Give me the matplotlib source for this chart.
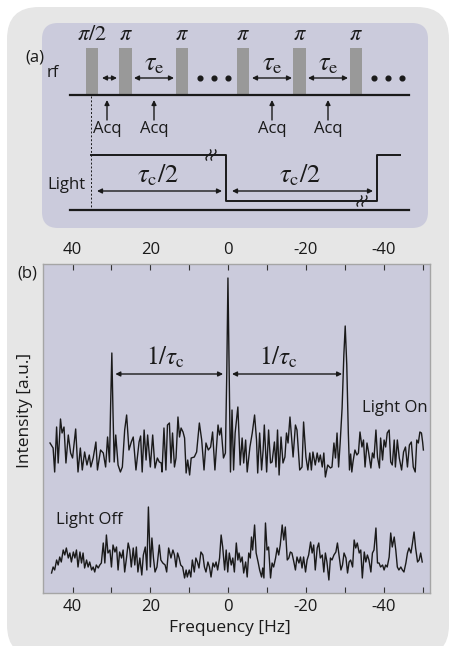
import numpy as np
import matplotlib.pyplot as plt
from matplotlib.patches import FancyBboxPatch

plt.rcParams['font.family'] = ['Open Sans', 'DejaVu Sans']
plt.rcParams['mathtext.fontset'] = 'stix'
plt.rcParams['axes.unicode_minus'] = False

# ---- spectrum (b): frequency [Hz] and intensity [a.u.] ----
on_freq = [45.8, 45.0, 44.6, 44.1, 43.7, 43.1, 42.7, 42.2, 41.7, 41.1, 40.5, 40.0, 39.2, 38.6,
           38.0, 37.5, 36.9, 36.3, 35.7, 35.3, 34.7, 34.0, 33.6, 32.8, 32.1, 31.5, 31.0, 30.5,
           30.2, 29.9, 29.6, 29.3, 28.9, 28.3, 27.7, 27.2, 26.6, 26.1, 25.5, 24.9, 24.4, 23.7,
           22.9, 22.5, 22.1, 21.6, 21.1, 20.7, 20.0, 19.4, 18.8, 18.2, 17.7, 17.2, 17.0, 16.5,
           16.0, 15.6, 15.1, 14.7, 14.3, 13.8, 13.4, 12.9, 12.5, 12.1, 11.6, 11.2, 10.8, 10.4,
           9.9, 9.5, 8.7, 8.1, 7.4, 6.8, 6.2, 5.7, 5.1, 4.5, 4.0, 3.4, 2.6, 2.2, 1.8, 1.2,
           0.7, 0.35, 0.05, -0.3, -0.6, -1.0, -1.4, -1.8, -2.5, -3.1, -3.6, -4.0, -4.5, -4.9,
           -5.6, -6.2, -6.8, -7.3, -7.6, -8.1, -8.6, -9.0, -9.3, -9.9, -10.4, -10.9, -11.3,
           -11.9, -12.3, -12.7, -13.1, -13.6, -14.1, -14.6, -15.0, -15.4, -15.9, -16.3, -16.7,
           -17.3, -17.7, -18.4, -19.0, -19.4, -20.0, -20.5, -21.0, -21.4, -21.8, -22.4, -22.9,
           -23.3, -23.7, -24.2, -24.6, -25.0, -25.6, -26.3, -26.7, -27.2, -27.6, -28.0, -28.4,
           -28.8, -29.3, -29.75, -30.1, -30.5, -30.9, -31.2, -31.5, -31.8, -32.1, -32.6, -33.1,
           -33.5, -33.9, -34.4, -34.8, -35.2, -35.7, -36.1, -36.7, -37.1, -37.5, -38.0, -38.4,
           -38.9, -39.2, -39.7, -40.1, -40.5, -40.9, -41.4, -41.8, -42.2, -42.7, -43.0, -43.5,
           -44.0, -44.6, -45.1, -45.6, -46.1, -46.6, -47.1, -47.6, -48.1, -48.5, -48.9, -49.3,
           -49.7, -50.0, -50.2]
on_int = [150, 145, 121, 166, 130, 174, 160, 166, 130, 158, 140, 135, 164, 121,
          145, 123, 141, 128, 138, 126, 135, 151, 123, 143, 140, 126, 156, 131,
          190, 240, 180, 131, 158, 128, 121, 126, 163, 178, 143, 151, 156, 123,
          151, 157, 121, 163, 133, 158, 126, 158, 125, 135, 131, 130, 121, 165,
          123, 168, 170, 130, 160, 126, 135, 176, 156, 165, 161, 155, 120, 133,
          118, 135, 136, 141, 170, 153, 123, 150, 143, 146, 161, 123, 168, 158, 165, 135,
          140, 220, 315, 210, 121, 183, 123, 160, 186, 128, 155, 130, 153, 121,
          146, 160, 178, 153, 120, 160, 123, 143, 168, 121, 163, 130, 131,
          151, 126, 163, 118, 156, 130, 136, 160, 150, 176, 156, 136,
          168, 163, 123, 126, 171, 136, 123, 140, 123, 141, 128, 140,
          131, 138, 126, 140, 116, 128, 125, 126, 150, 135, 160, 126,
          150, 185, 238, 267, 228, 160, 123, 139, 121, 131, 143, 138,
          140, 161, 146, 153, 126, 150, 141, 125, 140, 135, 163, 136,
          125, 155, 133, 153, 146, 160, 163, 131, 128, 153, 126, 153,
          135, 123, 141, 146, 126, 148, 151, 126, 121, 153, 150, 161,
          160, 151, 143]

off_freq = [45.4, 45.0, 44.6, 44.1, 43.7, 43.3, 42.9, 42.4, 42.0, 41.6, 41.1, 40.7, 40.3, 39.8,
            39.4, 39.0, 38.6, 38.1, 37.7, 37.3, 36.9, 36.4, 36.0, 35.6, 35.1, 34.7, 34.3, 33.9,
            33.4, 33.0, 32.6, 32.1, 31.7, 31.3, 30.9, 30.4, 30.0, 29.6, 29.1, 28.7, 28.3, 27.9,
            27.4, 27.0, 26.6, 26.1, 25.7, 25.3, 24.9, 24.4, 24.0, 23.6, 23.2, 22.7, 22.2, 21.8,
            21.3, 20.9, 20.5, 20.0, 19.6, 19.2, 18.8, 18.3, 17.7, 17.3, 16.8, 16.2, 15.8, 15.3,
            14.7, 14.2, 13.8, 13.4, 13.0, 12.6, 12.2, 11.7, 11.2, 10.8, 10.5, 10.0, 9.6, 9.2,
            8.7, 8.3, 7.9, 7.5, 7.0, 6.5, 6.1, 5.7, 5.2, 4.8, 4.4, 3.9, 3.5, 3.1, 2.7, 2.2,
            1.8, 1.4, 0.9, 0.5, 0.1, -0.3, -0.8, -1.2, -1.6, -2.1, -2.5, -2.8, -3.2, -3.6,
            -4.0, -4.5, -4.9, -5.3, -5.7, -6.0, -6.3, -6.8, -7.2, -7.7, -8.1, -8.6, -8.9, -9.2,
            -9.6, -10.0, -10.4, -10.9, -11.3, -11.7, -12.2, -12.6, -13.0, -13.4, -13.9, -14.3,
            -14.7, -15.2, -15.6, -16.0, -16.4, -16.9, -17.3, -17.7, -18.2, -18.6, -19.0, -19.4,
            -19.9, -20.3, -20.7, -21.2, -21.6, -22.0, -22.4, -22.9, -23.3, -23.7, -24.2, -24.6,
            -25.0, -25.4, -25.9, -26.3, -26.7, -27.2, -27.7, -28.1, -28.5, -29.0, -29.4, -29.8,
            -30.3, -30.7, -31.1, -31.5, -32.0, -32.4, -32.8, -33.2, -33.7, -34.1, -34.5, -35.0,
            -35.4, -35.8, -36.2, -36.7, -37.1, -37.5, -38.0, -38.4, -38.8, -39.2, -39.7, -40.1,
            -40.5, -40.9, -41.4, -41.8, -42.2, -42.7, -43.1, -43.5, -43.9, -44.4, -44.8, -45.2,
            -45.7, -46.1, -46.5, -47.0, -47.4, -47.8, -48.2, -48.7, -49.1, -49.5, -49.9]
off_int = [20, 26, 23, 33, 28, 36, 31, 43, 38, 45, 35, 40, 31, 41,
           35, 43, 26, 41, 30, 40, 25, 33, 26, 31, 23, 26, 21, 28,
           25, 28, 30, 50, 30, 58, 40, 43, 26, 48, 41, 46, 23, 41,
           35, 43, 21, 36, 50, 43, 26, 45, 28, 46, 21, 35, 18, 38,
           46, 23, 86, 26, 55, 35, 21, 26, 48, 33, 30, 28, 21, 45,
           35, 43, 38, 26, 40, 35, 28, 26, 15, 23, 16, 23, 16, 33,
           21, 35, 31, 25, 41, 38, 26, 21, 31, 26, 16, 30, 26, 31, 23, 35,
           58, 46, 23, 43, 21, 40, 28, 35, 21, 50, 33, 40, 31, 36,
           20, 31, 16, 40, 35, 56, 43, 68, 40, 31, 23, 16, 25, 15,
           70, 43, 46, 15, 30, 26, 35, 45, 38, 48, 68, 53,
           66, 33, 35, 41, 40, 31, 23, 36, 30, 36, 25, 36,
           21, 33, 38, 51, 40, 48, 23, 45, 50, 35, 38, 21,
           40, 31, 13, 35, 33, 38, 41, 50, 38, 23, 28, 40,
           35, 20, 31, 33, 26, 53, 45, 50, 40, 43, 15, 41,
           31, 38, 33, 21, 40, 43, 65, 30, 30, 26, 28, 23,
           28, 26, 36, 60, 46, 56, 43, 26, 23, 26, 23, 21,
           30, 40, 45, 40, 50, 61, 45, 31, 33, 40, 31]

major_ticks = [40, 20, 0, -20, -40]
minor_ticks = [30, 10, -10, -30, -50]

# ---- pulse sequence schematic (a), in figure pixel units ----
pulse_x = [92, 125.5, 182, 243, 299.5, 356]
pulse_names = [r'$\pi/2$', r'$\pi$', r'$\pi$', r'$\pi$', r'$\pi$', r'$\pi$']
acq_x = [107, 154, 272, 328]
tau_e_spans = [(134, 174), (252, 292), (308, 348)]
dots_x = [[200, 214, 228], [374, 388, 402]]
light_x = [91, 226, 226, 377, 377, 400]
light_y = [155, 155, 201, 201, 155, 155]

ink = '#1a1a1a'
lav = '#cbcbdc'

fig = plt.figure(figsize=(4.5, 6.46), dpi=100)
bg = fig.add_axes([0, 0, 1, 1])
bg.set_xlim(0, 450)
bg.set_ylim(646, 0)
bg.axis('off')

bg.add_patch(FancyBboxPatch((7, 7), 442, 650, boxstyle='round,pad=0,rounding_size=32',
                            fc='#e6e6e6', ec='none'))
bg.add_patch(FancyBboxPatch((42, 23), 386, 205, boxstyle='round,pad=0,rounding_size=16',
                            fc=lav, ec='none'))

# rf line and pulses
bg.bar(pulse_x, -46.5, width=12.5, bottom=94.5, color='#999999', zorder=2)
bg.plot([70, 409], [94.5, 94.5], color=ink, lw=1.6, zorder=3)
for x, s in zip(pulse_x, pulse_names):
    bg.text(x, 35, s, fontsize=16, ha='center', va='center', color=ink)
bg.text(53, 73, 'rf', fontsize=12, ha='center', va='center', color=ink)
bg.text(35, 57, '(a)', fontsize=12, ha='center', va='center', color=ink)
for row in dots_x:
    bg.plot(row, [78] * len(row), 'o', ms=3.4, color=ink)

arr = dict(arrowstyle='<|-|>', lw=1.0, color=ink, mutation_scale=7, shrinkA=0, shrinkB=0)
bg.annotate('', xy=(102, 78), xytext=(117, 78), arrowprops=arr)
for a, b in tau_e_spans:
    bg.annotate('', xy=(a, 78), xytext=(b, 78), arrowprops=arr)
    bg.text((a + b) / 2, 64, r'$\tau_{\mathrm{e}}$', fontsize=19, ha='center', va='center', color=ink)

for x in acq_x:
    bg.annotate('', xy=(x, 100), xytext=(x, 120),
                arrowprops=dict(arrowstyle='-|>', lw=1.0, color=ink, mutation_scale=7,
                                shrinkA=0, shrinkB=0))
    bg.text(x, 129, 'Acq', fontsize=12, ha='center', va='center', color=ink)

# light modulation
bg.plot([91, 91], [96, 210], color=ink, lw=0.7, ls=(0, (2, 2)))
bg.plot(light_x, light_y, color=ink, lw=1.4)
bg.plot([70, 409], [210, 210], color=ink, lw=1.6)
bg.text(66, 185, 'Light', fontsize=12, ha='center', va='center', color=ink)


def brk(cx, cy):
    s = np.linspace(-1, 1, 20)
    for dx in (-2.5, 2.5):
        bg.plot(cx + dx + 1.3 * np.sin(np.pi * s) + 2.0 * s, cy - 5 * s,
                color=ink, lw=1.0, zorder=4)


brk(211, 155)
brk(362, 201)
bg.annotate('', xy=(97, 191), xytext=(222, 191), arrowprops=arr)
bg.annotate('', xy=(232, 191), xytext=(373, 191), arrowprops=arr)
bg.text(158, 176, r'$\tau_{\mathrm{c}}/2$', fontsize=19, ha='center', va='center', color=ink)
bg.text(300, 176, r'$\tau_{\mathrm{c}}/2$', fontsize=19, ha='center', va='center', color=ink)

# ---- spectrum panel ----
ax = fig.add_axes([43 / 450, (646 - 593) / 646, 387 / 450, 329 / 646])
ax.set_facecolor(lav)
ax.plot(on_freq, on_int, color=ink, lw=1.0)
ax.plot(off_freq, off_int, color=ink, lw=1.0)
ax.set_xlim(47.6, -51.9)
ax.set_ylim(0, 329)
ax.set_xticks(major_ticks)
ax.set_xticks(minor_ticks, minor=True)
ax.set_yticks([])
ax.tick_params(axis='x', which='both', direction='in', top=True, bottom=True,
               labeltop=True, labelbottom=True, length=4, width=0.8, color='#333333',
               labelsize=12, labelcolor=ink, pad=4)
for sp in ax.spines.values():
    sp.set_color('#a5a5a5')
    sp.set_linewidth(1.0)

ax.annotate('', xy=(29.0, 219), xytext=(1.3, 219), arrowprops=arr)
ax.annotate('', xy=(-1.0, 219), xytext=(-29.3, 219), arrowprops=arr)
ax.text(16.2, 235, r'$1/\tau_{\mathrm{c}}$', fontsize=18, ha='center', va='center', color=ink)
ax.text(-12.9, 235, r'$1/\tau_{\mathrm{c}}$', fontsize=18, ha='center', va='center', color=ink)
ax.text(-51.3, 185, 'Light On', fontsize=12, ha='right', va='center', color=ink)
ax.text(44.2, 73, 'Light Off', fontsize=12, ha='left', va='center', color=ink)

fig.text(27 / 450, 1 - 273 / 646, '(b)', fontsize=12, ha='center', va='center', color=ink)
fig.text(25 / 450, 1 - 410 / 646, 'Intensity [a.u.]', fontsize=12.5, rotation=90,
         ha='center', va='center', color=ink)
fig.text(230 / 450, 1 - 628 / 646, 'Frequency [Hz]', fontsize=12.5, ha='center',
         va='center', color=ink)

fig.savefig('out.png', dpi=100)
